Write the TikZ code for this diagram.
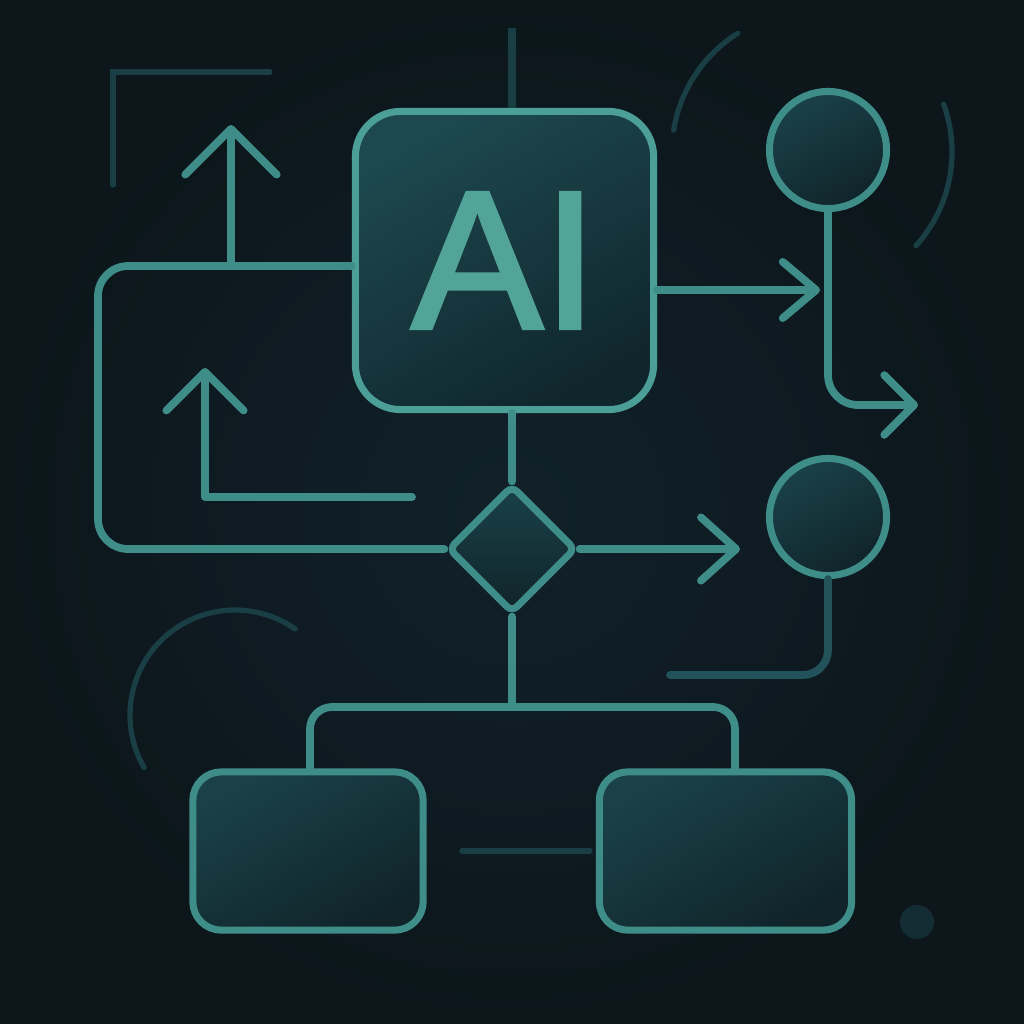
\documentclass[tikz,border=0pt]{standalone}
\usepackage{fontspec}
\newfontfamily\aifont{Liberation Sans}[FakeBold=2]
\usetikzlibrary{shapes.geometric,arrows.meta}
\definecolor{bgin}{HTML}{11212A}
\definecolor{bgout}{HTML}{0C161B}
\definecolor{linec}{HTML}{3E8D88}
\definecolor{brightc}{HTML}{4C9F96}
\definecolor{dimc}{HTML}{193F45}
\definecolor{midc}{HTML}{22535A}
\definecolor{aihi}{HTML}{1D484F}
\definecolor{ailo}{HTML}{10262D}
\definecolor{nodehi}{HTML}{1A4148}
\definecolor{nodelo}{HTML}{10242A}
\definecolor{txtc}{HTML}{52A398}
\definecolor{dotc}{HTML}{142C33}
\begin{document}
\begin{tikzpicture}[x=0.01cm,y=-0.01cm]
                \useasboundingbox (0,0) rectangle (1024,1024);
                \shade[inner color=bgin, outer color=bgout] (0,0) rectangle (1024,1024);

                \begin{scope}[faint/.style={draw=dimc, line width=1.5pt, line cap=round}]
                    \path[faint] (812,152) ++(189:140) arc[start angle=189, end angle=238, radius=140];
                    \path[faint] (812,152) ++(-20:140) arc[start angle=-20, end angle=42, radius=140];
                    \path[faint] (235,715) ++(150:105) arc[start angle=150, end angle=305, radius=105];
                    \path[faint] (270,72) -- (113,72) -- (113,185);
                    \path[faint] (462,851) -- (590,851);
                    \fill[dotc] (917,922) circle[radius=17];
                \end{scope}

                \begin{scope}[every node/.style={draw=linec, line width=2pt, inner sep=0pt}]
                    \node[rounded corners=0.45cm, minimum size=2.98cm, draw=brightc,
                          top color=aihi, bottom color=ailo, shading angle=30, text=txtc,
                          font=\aifont\fontsize{56}{56}\selectfont] (ai) at (504.5,260.5) {AI};
                    \node[diamond, minimum width=1.28cm, minimum height=1.28cm, rounded corners=2pt,
                          top color=nodehi, bottom color=nodelo] (dec) at (512,549) {};
                    \node[circle, minimum size=1.17cm, top color=nodehi, bottom color=nodelo,
                          shading angle=30] (circA) at (828,150) {};
                    \node[circle, minimum size=1.17cm, top color=nodehi, bottom color=nodelo,
                          shading angle=30] (circB) at (828,517) {};
                    \node[rounded corners=0.28cm, minimum width=2.3cm, minimum height=1.58cm,
                          top color=nodehi, bottom color=nodelo, shading angle=30] (boxL) at (308,851) {};
                    \node[rounded corners=0.28cm, minimum width=2.52cm, minimum height=1.58cm,
                          top color=nodehi, bottom color=nodelo, shading angle=30] (boxR) at (725.5,851) {};
                \end{scope}

                \begin{scope}[link/.style={draw=linec, line width=2.2pt, line cap=round, line join=round},
                              arr/.style 2 args={link, -{Straight Barb[length=#1, width=#2, round]}}]
                    \coordinate (topEnd) at (512,28);
                    \coordinate (upA) at (231,125);
                    \coordinate (loopA) at (231,266);
                    \coordinate (upB) at (205,368);
                    \coordinate (inStart) at (412,497);
                    \coordinate (tipA) at (820,290);
                    \coordinate (tipB) at (740,549);
                    \coordinate (tipC) at (918,405);
                    \coordinate (tailB) at (670,675);
                    \coordinate (fork) at (512,707);
                    \coordinate (legL) at (310,707);
                    \coordinate (legR) at (735,707);

                    \path[draw=dimc, line width=2pt] (ai.north -| topEnd) -- (topEnd);
                    \path[link, rounded corners=0.3cm] ([yshift=-0.055cm]ai.west) -- (98,266) -- (98,549) -- (dec.west);
                    \path[arr={13pt}{26pt}] (loopA) -- (upA);
                    \path[arr={11pt}{22pt}] (inStart) -- (upB |- inStart) -- (upB);
                    \path[link] (ai.south -| dec) -- (dec.north);
                    \path[arr={10pt}{18pt}] (dec.east) -- (tipB);
                    \path[arr={9.5pt}{16pt}] (ai.east |- tipA) -- (tipA);
                    \path[arr={8.5pt}{17pt}, rounded corners=0.3cm] (circA.south) -- (circA.south |- tipC) -- (tipC);
                    \path[link, draw=midc, rounded corners=0.25cm] (circB.south) -- (circB.south |- tailB) -- (tailB);
                    \path[link] (dec.south) -- (fork);
                    \path[link, rounded corners=0.22cm] (boxL.north -| legL) -- (legL) -- (legR) -- (boxR.north -| legR);
                \end{scope}
            \end{tikzpicture}
\end{document}
